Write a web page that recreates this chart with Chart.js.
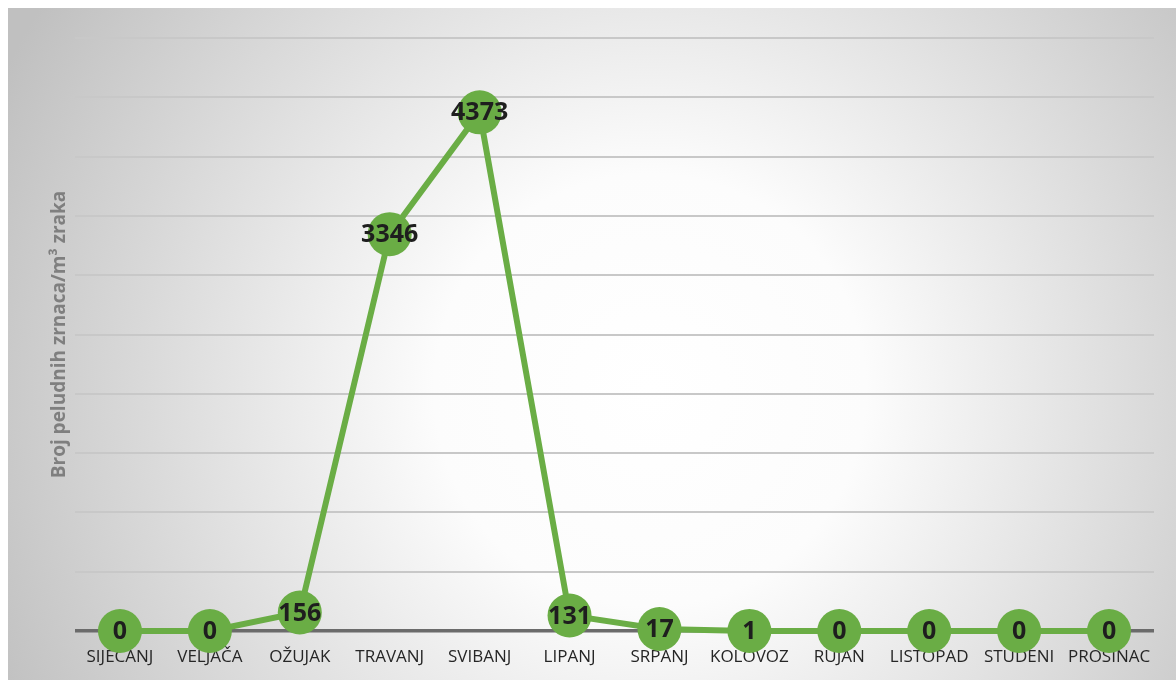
<!DOCTYPE html>
<html>
<head>
<meta charset="utf-8">
<script src="https://cdn.jsdelivr.net/npm/chart.js@4.4.1/dist/chart.umd.min.js"></script>
<style>
  html, body { margin: 0; padding: 0; background: #ffffff; }
  #wrap { width: 1176px; height: 680px; position: relative; }
</style>
</head>
<body>
<div id="wrap"><canvas id="pollenChart"></canvas></div>
<script>
  const months = ["SIJEČANJ", "VELJAČA", "OŽUJAK", "TRAVANJ", "SVIBANJ", "LIPANJ",
                  "SRPANJ", "KOLOVOZ", "RUJAN", "LISTOPAD", "STUDENI", "PROSINAC"];
  const pollenCounts = [0, 0, 156, 3346, 4373, 131, 17, 1, 0, 0, 0, 0];
  const yMax = 5000;
  const yStep = 500;
  const yTitle = "Broj peludnih zrnaca/m³ zraka";

  const GREEN = "#6aad45";
  const FONT = "'Open Sans', Lato, sans-serif";

  // grey radial backdrop behind everything
  const backdropPlugin = {
    id: "backdrop",
    beforeDraw(chart) {
      const ctx = chart.ctx;
      ctx.save();
      const g = ctx.createRadialGradient(650, 390, 0, 650, 390, 720);
      g.addColorStop(0, "#ffffff");
      g.addColorStop(0.3, "#fcfcfc");
      g.addColorStop(1, "#c0c0c0");
      ctx.fillStyle = g;
      ctx.fillRect(8, 8, chart.width - 8, chart.height - 8);
      ctx.restore();
    },
  };

  // values printed in the middle of each marker
  const valueLabels = {
    id: "valueLabels",
    afterDatasetsDraw(chart) {
      const ctx = chart.ctx;
      const meta = chart.getDatasetMeta(0);
      ctx.save();
      ctx.font = "700 25px " + FONT;
      ctx.fillStyle = "#1e1e1e";
      ctx.textAlign = "center";
      ctx.textBaseline = "middle";
      meta.data.forEach((pt, i) => {
        ctx.fillText(String(pollenCounts[i]), pt.x, pt.y + 1);
      });
      ctx.restore();
    },
  };

  new Chart(document.getElementById("pollenChart"), {
    type: "line",
    data: {
      labels: months,
      datasets: [{
        data: pollenCounts,
        borderColor: GREEN,
        borderWidth: 6,
        backgroundColor: GREEN,
        pointBackgroundColor: GREEN,
        pointBorderWidth: 0,
        pointRadius: 22,
        pointHoverRadius: 22,
        tension: 0,
        clip: false,
      }],
    },
    options: {
      responsive: true,
      maintainAspectRatio: false,
      animation: false,
      events: [],
      layout: { padding: { top: 38, right: 21, left: 48, bottom: 0 } },
      plugins: { legend: { display: false }, tooltip: { enabled: false } },
      scales: {
        x: {
          offset: true,
          grid: { display: false, drawTicks: false },
          border: { display: false },
          ticks: {
            color: "#262626",
            font: { family: FONT, size: 17 },
            padding: 16,
            maxRotation: 0,
            autoSkip: false,
          },
          afterFit(scale) { scale.height = 49; },
        },
        y: {
          min: 0,
          max: yMax,
          ticks: { display: false, stepSize: yStep },
          border: { display: false },
          grid: {
            drawTicks: false,
            color: (c) => c.tick && c.tick.value === 0 ? "#6b6b6b" : "#c8c8c8",
            lineWidth: (c) => c.tick && c.tick.value === 0 ? 3.5 : 2,
          },
          title: {
            display: true,
            text: yTitle,
            color: "#7f7f7f",
            font: { family: FONT, size: 19, weight: "700" },
            padding: { top: 0, bottom: 0 },
          },
          afterFit(scale) { scale.width = 27; },
        },
      },
    },
    plugins: [backdropPlugin, valueLabels],
  });
</script>
</body>
</html>
